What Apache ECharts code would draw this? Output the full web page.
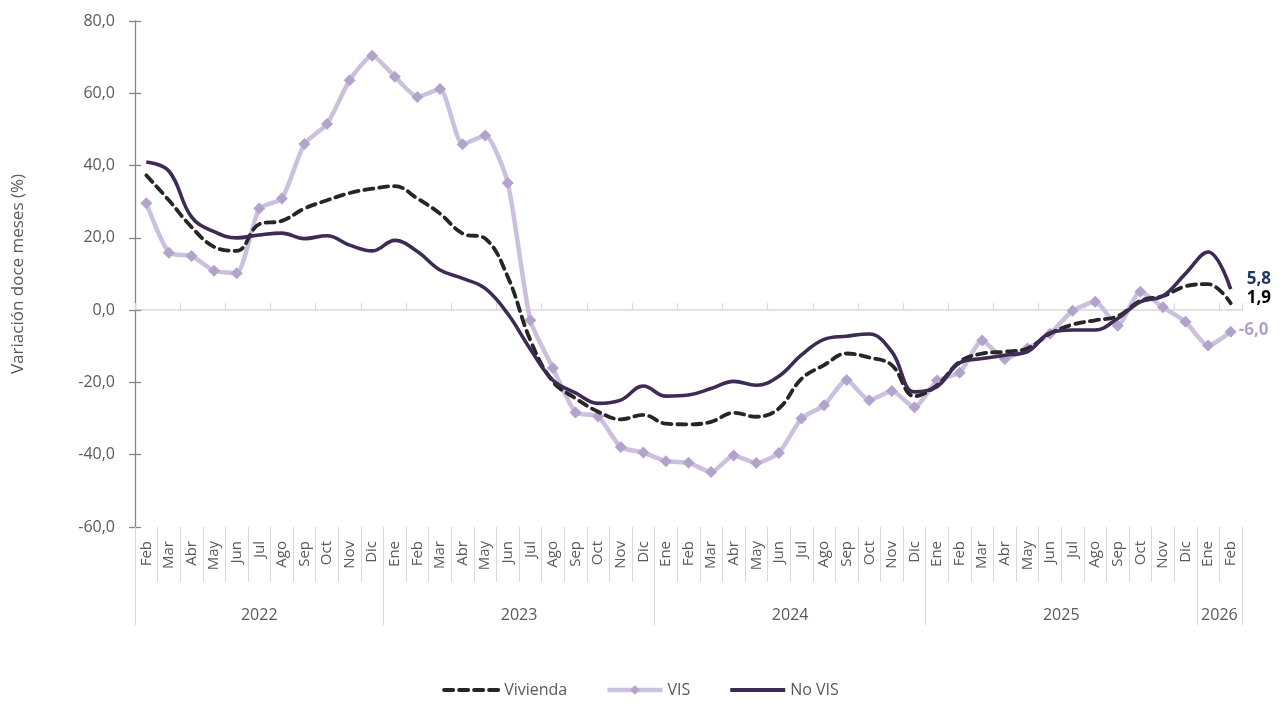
<!DOCTYPE html>
<html>
<head>
<meta charset="utf-8">
<script src="https://cdn.jsdelivr.net/npm/echarts@6/dist/echarts.min.js"></script>
<style>
  html, body { margin: 0; padding: 0; background: #fff; }
  #chart { width: 1281px; height: 707px; }
</style>
</head>
<body>
<div id="chart"></div>
<script>
// ---- Data ----
const months = [
  "Feb","Mar","Abr","May","Jun","Jul","Ago","Sep","Oct","Nov","Dic",
  "Ene","Feb","Mar","Abr","May","Jun","Jul","Ago","Sep","Oct","Nov","Dic",
  "Ene","Feb","Mar","Abr","May","Jun","Jul","Ago","Sep","Oct","Nov","Dic",
  "Ene","Feb","Mar","Abr","May","Jun","Jul","Ago","Sep","Oct","Nov","Dic",
  "Ene","Feb"
];
const years = ["2022", "2023", "2024", "2025", "2026"];
const yearBounds = [-0.5, 10.5, 22.5, 34.5, 46.5, 48.5];
const yearCenters = [5, 16.5, 28.5, 40.5, 47.5];

const vivienda = [
  37.3, 30.4, 23.0, 17.5, 16.4, 23.8, 24.7, 28.1, 30.4, 32.4, 33.6,
  34.3, 30.9, 26.7, 21.2, 19.8, 9.2, -8.3, -19.8, -24.4, -28.1, -30.2, -29.0,
  -31.4, -31.6, -30.9, -28.4, -29.5, -27.2, -19.0, -15.2, -12.0, -13.1, -15.2, -23.8,
  -20.8, -14.3, -12.0, -11.5, -10.6, -6.5, -4.0, -2.8, -1.7, 2.6, 3.9, 6.6,
  7.2, 1.9
];
const vis = [
  29.6, 15.9, 15.0, 10.9, 10.2, 28.1, 30.9, 46.0, 51.5, 63.6, 70.4,
  64.6, 59.0, 61.2, 45.9, 48.3, 35.2, -2.8, -16.0, -28.3, -29.4, -37.9, -39.4,
  -41.8, -42.2, -44.8, -40.2, -42.3, -39.5, -30.0, -26.3, -19.3, -24.9, -22.4, -26.9,
  -19.5, -17.3, -8.4, -13.5, -10.6, -6.5, -0.2, 2.3, -4.3, 5.1, 0.8, -3.2,
  -9.8, -6.0
];
const noVis = [
  41.0, 38.5, 25.8, 21.7, 20.0, 20.8, 21.3, 19.8, 20.6, 18.0, 16.4,
  19.3, 16.2, 11.1, 8.8, 6.0, -1.0, -10.8, -19.4, -22.9, -25.8, -24.9, -21.0,
  -23.8, -23.5, -21.7, -19.7, -20.8, -18.3, -12.4, -8.1, -7.2, -6.6, -11.5, -22.6,
  -21.2, -14.6, -13.4, -12.5, -11.5, -6.3, -5.5, -5.5, -2.3, 2.3, 3.9, 10.1,
  16.1, 5.8
];
const yTicks = { min: -60, max: 80, interval: 20 };

// ---- Chart ----
const FONT = '"Open Sans", "Noto Sans", sans-serif';
const GRAY = '#595959';
const LIGHT = '#d9d9d9';
const fmt = v => Number(v).toFixed(1).replace('.', ',');

const chart = echarts.init(document.getElementById('chart'), null, { renderer: 'canvas' });
chart.setOption({
  animation: false,
  backgroundColor: '#ffffff',
  textStyle: { fontFamily: FONT },
  grid: { left: 135, right: 39, top: 21, bottom: 180, containLabel: false, outerBoundsMode: 'none' },
  legend: {
    bottom: 4,
    left: 'center',
    itemWidth: 55,
    itemHeight: 12,
    itemGap: 38,
    textStyle: { fontSize: 16, color: GRAY, fontFamily: FONT },
    data: [
      { name: 'Vivienda', itemStyle: { opacity: 0 }, lineStyle: { width: 4 } },
      { name: 'VIS', lineStyle: { width: 4.5 } },
      { name: 'No VIS', itemStyle: { opacity: 0 }, lineStyle: { width: 4 } }
    ]
  },
  xAxis: [
    {
      type: 'category', data: months, position: 'bottom', boundaryGap: true,
      axisLine: { show: true, onZero: true, lineStyle: { color: LIGHT, width: 1.5 } },
      axisTick: { show: true, inside: true, length: 7, lineStyle: { color: LIGHT, width: 1.2 } },
      axisLabel: { show: false }, splitLine: { show: false }
    },
    {
      type: 'category', data: months, position: 'bottom', boundaryGap: true,
      axisLine: { show: false, onZero: false },
      axisTick: { show: true, length: 55, lineStyle: { color: LIGHT, width: 1 } },
      axisLabel: { show: true, rotate: 90, margin: 14, fontSize: 15, color: GRAY, fontFamily: FONT, interval: 0 },
      splitLine: { show: false }
    },
    {
      type: 'value', position: 'bottom', min: -0.5, max: 48.5,
      axisLine: { show: false, onZero: false },
      axisTick: { show: true, customValues: yearBounds, length: 98, lineStyle: { color: LIGHT, width: 1 } },
      axisLabel: {
        show: true, customValues: yearCenters, margin: 80, fontSize: 16, color: GRAY, fontFamily: FONT,
        formatter: v => { const i = yearCenters.indexOf(v); return i >= 0 ? years[i] : ''; }
      },
      splitLine: { show: false }
    }
  ],
  yAxis: [
    {
      type: 'value', position: 'left', min: yTicks.min, max: yTicks.max, interval: yTicks.interval,
      name: 'Variación doce meses (%)', nameLocation: 'middle', nameGap: 108,
      nameTextStyle: { fontSize: 17, color: GRAY, fontFamily: FONT },
      axisLine: { show: true, onZero: false, lineStyle: { color: '#868686', width: 1.3 } },
      axisTick: { show: true, length: 6, lineStyle: { color: '#868686', width: 1.3 } },
      axisLabel: { formatter: fmt, fontSize: 16, color: GRAY, margin: 20, fontFamily: FONT },
      splitLine: { show: false }
    },
    {
      type: 'value', position: 'left', min: yTicks.min, max: yTicks.max, interval: yTicks.interval,
      axisLine: { show: false, onZero: false },
      axisTick: { show: true, inside: true, length: 6, lineStyle: { color: '#868686', width: 1.3 } },
      axisLabel: { show: false }, splitLine: { show: false }
    }
  ],
  series: [
    {
      name: 'VIS', type: 'line', data: vis, xAxisIndex: 0, yAxisIndex: 0, z: 2,
      smooth: 0.2, symbol: 'diamond', symbolSize: 12, showSymbol: true,
      lineStyle: { color: '#cbc1de', width: 4.5 },
      itemStyle: { color: '#b3a3cc' },
      endLabel: { show: true, formatter: p => fmt(p.value), color: '#b3a3cc', fontSize: 17, fontWeight: 'bold', offset: [0, -2], fontFamily: FONT }
    },
    {
      name: 'Vivienda', type: 'line', data: vivienda, xAxisIndex: 0, yAxisIndex: 0, z: 3,
      smooth: 0.4, symbol: 'none',
      lineStyle: { color: '#262626', width: 3.8, type: [9, 6], cap: 'round' },
      itemStyle: { color: '#262626' },
      endLabel: { show: true, formatter: p => fmt(p.value), color: '#000000', fontSize: 17, fontWeight: 'bold', offset: [8, -5], fontFamily: FONT }
    },
    {
      name: 'No VIS', type: 'line', data: noVis, xAxisIndex: 0, yAxisIndex: 0, z: 4,
      smooth: 0.4, symbol: 'none',
      lineStyle: { color: '#3d2b56', width: 3.6 },
      itemStyle: { color: '#3d2b56' },
      endLabel: { show: true, formatter: p => fmt(p.value), color: '#1f3864', fontSize: 17, fontWeight: 'bold', offset: [8, -10], fontFamily: FONT }
    }
  ]
});
</script>
</body>
</html>
